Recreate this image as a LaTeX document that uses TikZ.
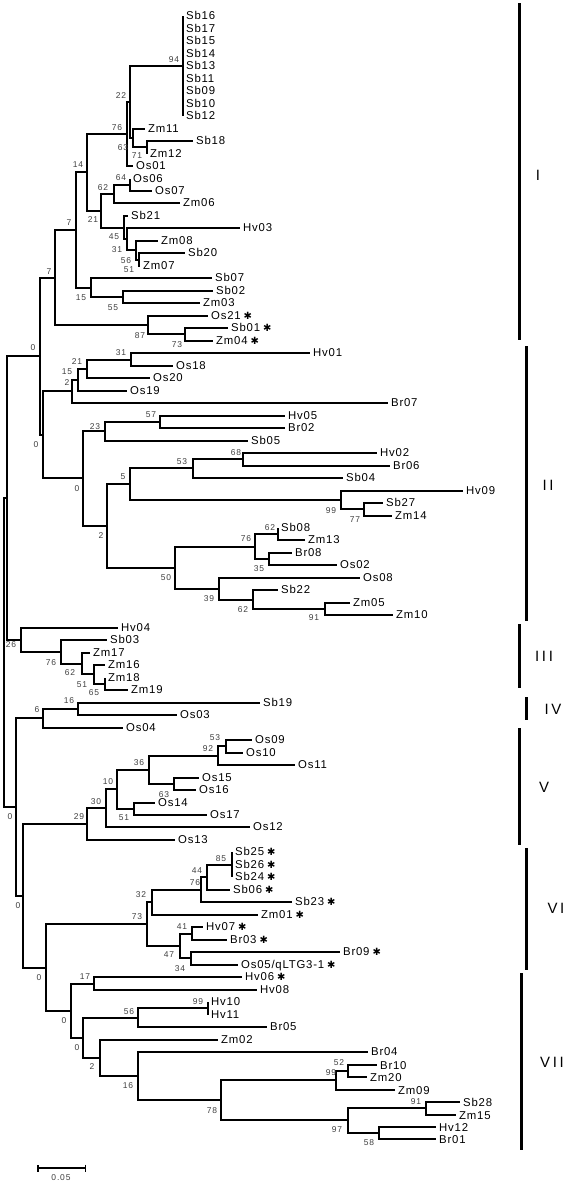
\documentclass[tikz,border=0pt]{standalone}
\usepackage{fontspec}
\setmainfont{Liberation Sans}
\newfontfamily\lblfont[LetterSpace=7]{Liberation Sans}
\newfontfamily\numfont[LetterSpace=10]{Liberation Sans}
\newfontfamily\romfont[LetterSpace=18]{Liberation Sans}
\newfontfamily\starfont{DejaVu Sans}
\usetikzlibrary{arrows.meta}
\newcommand{\leaffont}{\lblfont\fontsize{11.4}{13}\selectfont}
\newcommand{\bsfont}{\numfont\fontsize{8.5}{10}\selectfont}
\newcommand{\cladefont}{\romfont\fontsize{15}{18}\selectfont}
\newcommand{\mystar}{\hspace{3pt}{\starfont\fontsize{10}{10}\selectfont ✱}}
\tikzset{
  br/.style={line width=1.5bp, line join=miter},
  leaf/.style={anchor=west, inner xsep=3pt, inner ysep=0pt, font=\leaffont, text height=8pt, text depth=0pt},
  bs/.style={font=\bsfont, text=black!75, inner sep=0pt},
  cbar/.style={line width=3bp},
  clade/.style={font=\cladefont, inner sep=0pt},
}
\begin{document}
\begin{tikzpicture}[x=1bp,y=-1bp]
\useasboundingbox (0,0) rectangle (568,1184);
\fill[white] (0,0) rectangle (568,1184);

% ---------- leaves ----------
\node[leaf] (Sb16) at (183,16) {Sb16};
\node[leaf] (Sb17) at (183,29) {Sb17};
\node[leaf] (Sb15) at (183,41) {Sb15};
\node[leaf] (Sb14) at (183,54) {Sb14};
\node[leaf] (Sb13) at (183,66) {Sb13};
\node[leaf] (Sb11) at (183,79) {Sb11};
\node[leaf] (Sb09) at (183,91) {Sb09};
\node[leaf] (Sb10) at (183,104) {Sb10};
\node[leaf] (Sb12) at (183,116) {Sb12};
\node[leaf] (Zm11) at (145,129) {Zm11};
\node[leaf] (Sb18) at (193,141) {Sb18};
\node[leaf] (Zm12) at (147,154) {Zm12};
\node[leaf] (Os01) at (133,166) {Os01};
\node[leaf] (Os06) at (130,179) {Os06};
\node[leaf] (Os07) at (152,191) {Os07};
\node[leaf] (Zm06) at (180,203) {Zm06};
\node[leaf] (Sb21) at (128,216) {Sb21};
\node[leaf] (Hv03) at (240,228) {Hv03};
\node[leaf] (Zm08) at (158,241) {Zm08};
\node[leaf] (Sb20) at (185,253) {Sb20};
\node[leaf] (Zm07) at (140,266) {Zm07};
\node[leaf] (Sb07) at (212,278) {Sb07};
\node[leaf] (Sb02) at (213,291) {Sb02};
\node[leaf] (Zm03) at (200,303) {Zm03};
\node[leaf] (Os21) at (208,316) {Os21\mystar};
\node[leaf] (Sb01) at (228,328) {Sb01\mystar};
\node[leaf] (Zm04) at (213,341) {Zm04\mystar};
\node[leaf] (Hv01) at (310,353) {Hv01};
\node[leaf] (Os18) at (173,366) {Os18};
\node[leaf] (Os20) at (150,378) {Os20};
\node[leaf] (Os19) at (127,391) {Os19};
\node[leaf] (Br07) at (388,403) {Br07};
\node[leaf] (Hv05) at (285,416) {Hv05};
\node[leaf] (Br02) at (285,428) {Br02};
\node[leaf] (Sb05) at (248,441) {Sb05};
\node[leaf] (Hv02) at (377,453) {Hv02};
\node[leaf] (Br06) at (390,466) {Br06};
\node[leaf] (Sb04) at (343,478) {Sb04};
\node[leaf] (Hv09) at (463,491) {Hv09};
\node[leaf] (Sb27) at (383,503) {Sb27};
\node[leaf] (Zm14) at (392,516) {Zm14};
\node[leaf] (Sb08) at (278,528) {Sb08};
\node[leaf] (Zm13) at (305,540) {Zm13};
\node[leaf] (Br08) at (292,553) {Br08};
\node[leaf] (Os02) at (337,565) {Os02};
\node[leaf] (Os08) at (360,578) {Os08};
\node[leaf] (Sb22) at (278,590) {Sb22};
\node[leaf] (Zm05) at (350,603) {Zm05};
\node[leaf] (Zm10) at (393,615) {Zm10};
\node[leaf] (Hv04) at (118,628) {Hv04};
\node[leaf] (Sb03) at (107,640) {Sb03};
\node[leaf] (Zm17) at (90,653) {Zm17};
\node[leaf] (Zm16) at (105,665) {Zm16};
\node[leaf] (Zm18) at (105,678) {Zm18};
\node[leaf] (Zm19) at (128,690) {Zm19};
\node[leaf] (Sb19) at (260,703) {Sb19};
\node[leaf] (Os03) at (177,715) {Os03};
\node[leaf] (Os04) at (123,728) {Os04};
\node[leaf] (Os09) at (252,740) {Os09};
\node[leaf] (Os10) at (243,753) {Os10};
\node[leaf] (Os11) at (295,765) {Os11};
\node[leaf] (Os15) at (199,778) {Os15};
\node[leaf] (Os16) at (196,790) {Os16};
\node[leaf] (Os14) at (155,803) {Os14};
\node[leaf] (Os17) at (207,815) {Os17};
\node[leaf] (Os12) at (250,827) {Os12};
\node[leaf] (Os13) at (175,840) {Os13};
\node[leaf] (Sb25) at (232,852) {Sb25\mystar};
\node[leaf] (Sb26) at (232,865) {Sb26\mystar};
\node[leaf] (Sb24) at (232,877) {Sb24\mystar};
\node[leaf] (Sb06) at (230,890) {Sb06\mystar};
\node[leaf] (Sb23) at (292,902) {Sb23\mystar};
\node[leaf] (Zm01) at (258,915) {Zm01\mystar};
\node[leaf] (Hv07) at (203,927) {Hv07\mystar};
\node[leaf] (Br03) at (227,940) {Br03\mystar};
\node[leaf] (Br09) at (340,952) {Br09\mystar};
\node[leaf] (Os05) at (238,965) {Os05/qLTG3-1\mystar};
\node[leaf] (Hv06) at (242,977) {Hv06\mystar};
\node[leaf] (Hv08) at (257,990) {Hv08};
\node[leaf] (Hv10) at (208,1002) {Hv10};
\node[leaf] (Hv11) at (208,1015) {Hv11};
\node[leaf] (Br05) at (267,1027) {Br05};
\node[leaf] (Zm02) at (218,1040) {Zm02};
\node[leaf] (Br04) at (368,1052) {Br04};
\node[leaf] (Br10) at (377,1065) {Br10};
\node[leaf] (Zm20) at (367,1077) {Zm20};
\node[leaf] (Zm09) at (395,1090) {Zm09};
\node[leaf] (Sb28) at (460,1102) {Sb28};
\node[leaf] (Zm15) at (456,1115) {Zm15};
\node[leaf] (Hv12) at (436,1127) {Hv12};
\node[leaf] (Br01) at (436,1139) {Br01};

% ---------- internal nodes ----------
\coordinate (n94) at (183,66);
\coordinate (n71) at (147,147);
\coordinate (n63) at (133,138);
\coordinate (n22) at (130,102);
\coordinate (n76) at (127,134);
\coordinate (n64) at (130,185);
\coordinate (n62) at (114,194);
\coordinate (n51) at (139,260);
\coordinate (n56) at (136,250);
\coordinate (n31) at (127,239);
\coordinate (n45) at (124,228);
\coordinate (n21) at (101,211);
\coordinate (n14) at (87,172);
\coordinate (n55) at (123,297);
\coordinate (n15) at (91,288);
\coordinate (n7a) at (76,230);
\coordinate (n73a) at (185,334);
\coordinate (n87) at (148,325);
\coordinate (n7b) at (55,278);
\coordinate (n31b) at (131,360);
\coordinate (n21b) at (87,369);
\coordinate (n15b) at (78,380);
\coordinate (n2a) at (72,391);
\coordinate (n57) at (160,422);
\coordinate (n23) at (105,431);
\coordinate (n68) at (243,459);
\coordinate (n53) at (193,468);
\coordinate (n77) at (364,509);
\coordinate (n99a) at (341,500);
\coordinate (n5) at (130,484);
\coordinate (n62b) at (278,534);
\coordinate (n35) at (269,559);
\coordinate (n76b) at (255,547);
\coordinate (n91) at (325,609);
\coordinate (n62c) at (253,600);
\coordinate (n39) at (219,589);
\coordinate (n50) at (175,568);
\coordinate (n2b) at (107,526);
\coordinate (n0c) at (83,478);
\coordinate (n0b) at (43,435);
\coordinate (n0a) at (40,356);
\coordinate (n65) at (105,684);
\coordinate (n51c) at (94,674);
\coordinate (n62d) at (82,664);
\coordinate (n76c) at (61,652);
\coordinate (n26) at (21,640);
\coordinate (nR2) at (7,498);
\coordinate (n16a) at (78,709);
\coordinate (n6) at (43,718);
\coordinate (n53b) at (226,746);
\coordinate (n92) at (218,756);
\coordinate (n63b) at (174,784);
\coordinate (n36) at (149,770);
\coordinate (n51d) at (134,809);
\coordinate (n10) at (117,789);
\coordinate (n30) at (106,808);
\coordinate (n29) at (87,824);
\coordinate (n85) at (232,865);
\coordinate (n44) at (207,877);
\coordinate (n76d) at (201,890);
\coordinate (n32) at (152,902);
\coordinate (n41) at (192,934);
\coordinate (n34) at (191,958);
\coordinate (n47) at (180,946);
\coordinate (n73b) at (147,924);
\coordinate (n17) at (94,984);
\coordinate (n99b) at (208,1008);
\coordinate (n56b) at (138,1018);
\coordinate (n52) at (348,1071);
\coordinate (n99c) at (336,1080);
\coordinate (n91b) at (426,1108);
\coordinate (n58) at (379,1133);
\coordinate (n97) at (348,1120);
\coordinate (n78) at (221,1100);
\coordinate (n16b) at (138,1076);
\coordinate (n2c) at (100,1058);
\coordinate (n0g) at (83,1038);
\coordinate (n0f) at (71,1011);
\coordinate (n0e) at (46,968);
\coordinate (n0d) at (23,896);
\coordinate (n0h) at (16,807);
\coordinate (root) at (4,652);

% ---------- branches ----------
\draw[br] (n94) |- (Sb16.west) (n94) |- (Sb12.west);
\draw[br] (n71) |- (Sb18.west) (n71) |- (Zm12.west);
\draw[br] (n63) |- (Zm11.west) (n63) |- (n71);
\draw[br] (n22) |- (n94) (n22) |- (n63);
\draw[br] (n76) |- (n22) (n76) |- (Os01.west);
\draw[br] (n64) |- (Os06.west) (n64) |- (Os07.west);
\draw[br] (n62) |- (n64) (n62) |- (Zm06.west);
\draw[br] (n51) |- (Sb20.west) (n51) |- (Zm07.west);
\draw[br] (n56) |- (Zm08.west) (n56) |- (n51);
\draw[br] (n31) |- (Hv03.west) (n31) |- (n56);
\draw[br] (n45) |- (Sb21.west) (n45) |- (n31);
\draw[br] (n21) |- (n62) (n21) |- (n45);
\draw[br] (n14) |- (n76) (n14) |- (n21);
\draw[br] (n55) |- (Sb02.west) (n55) |- (Zm03.west);
\draw[br] (n15) |- (Sb07.west) (n15) |- (n55);
\draw[br] (n7a) |- (n14) (n7a) |- (n15);
\draw[br] (n73a) |- (Sb01.west) (n73a) |- (Zm04.west);
\draw[br] (n87) |- (Os21.west) (n87) |- (n73a);
\draw[br] (n7b) |- (n7a) (n7b) |- (n87);
\draw[br] (n31b) |- (Hv01.west) (n31b) |- (Os18.west);
\draw[br] (n21b) |- (n31b) (n21b) |- (Os20.west);
\draw[br] (n15b) |- (n21b) (n15b) |- (Os19.west);
\draw[br] (n2a) |- (n15b) (n2a) |- (Br07.west);
\draw[br] (n57) |- (Hv05.west) (n57) |- (Br02.west);
\draw[br] (n23) |- (n57) (n23) |- (Sb05.west);
\draw[br] (n68) |- (Hv02.west) (n68) |- (Br06.west);
\draw[br] (n53) |- (n68) (n53) |- (Sb04.west);
\draw[br] (n77) |- (Sb27.west) (n77) |- (Zm14.west);
\draw[br] (n99a) |- (Hv09.west) (n99a) |- (n77);
\draw[br] (n5) |- (n53) (n5) |- (n99a);
\draw[br] (n62b) |- (Sb08.west) (n62b) |- (Zm13.west);
\draw[br] (n35) |- (Br08.west) (n35) |- (Os02.west);
\draw[br] (n76b) |- (n62b) (n76b) |- (n35);
\draw[br] (n91) |- (Zm05.west) (n91) |- (Zm10.west);
\draw[br] (n62c) |- (Sb22.west) (n62c) |- (n91);
\draw[br] (n39) |- (Os08.west) (n39) |- (n62c);
\draw[br] (n50) |- (n76b) (n50) |- (n39);
\draw[br] (n2b) |- (n5) (n2b) |- (n50);
\draw[br] (n0c) |- (n23) (n0c) |- (n2b);
\draw[br] (n0b) |- (n2a) (n0b) |- (n0c);
\draw[br] (n0a) |- (n7b) (n0a) |- (n0b);
\draw[br] (n65) |- (Zm18.west) (n65) |- (Zm19.west);
\draw[br] (n51c) |- (Zm16.west) (n51c) |- (n65);
\draw[br] (n62d) |- (Zm17.west) (n62d) |- (n51c);
\draw[br] (n76c) |- (Sb03.west) (n76c) |- (n62d);
\draw[br] (n26) |- (Hv04.west) (n26) |- (n76c);
\draw[br] (nR2) |- (n0a) (nR2) |- (n26);
\draw[br] (n16a) |- (Sb19.west) (n16a) |- (Os03.west);
\draw[br] (n6) |- (n16a) (n6) |- (Os04.west);
\draw[br] (n53b) |- (Os09.west) (n53b) |- (Os10.west);
\draw[br] (n92) |- (n53b) (n92) |- (Os11.west);
\draw[br] (n63b) |- (Os15.west) (n63b) |- (Os16.west);
\draw[br] (n36) |- (n92) (n36) |- (n63b);
\draw[br] (n51d) |- (Os14.west) (n51d) |- (Os17.west);
\draw[br] (n10) |- (n36) (n10) |- (n51d);
\draw[br] (n30) |- (n10) (n30) |- (Os12.west);
\draw[br] (n29) |- (n30) (n29) |- (Os13.west);
\draw[br] (n85) |- (Sb25.west) (n85) |- (Sb24.west);
\draw[br] (n44) |- (n85) (n44) |- (Sb06.west);
\draw[br] (n76d) |- (n44) (n76d) |- (Sb23.west);
\draw[br] (n32) |- (n76d) (n32) |- (Zm01.west);
\draw[br] (n41) |- (Hv07.west) (n41) |- (Br03.west);
\draw[br] (n34) |- (Br09.west) (n34) |- (Os05.west);
\draw[br] (n47) |- (n41) (n47) |- (n34);
\draw[br] (n73b) |- (n32) (n73b) |- (n47);
\draw[br] (n17) |- (Hv06.west) (n17) |- (Hv08.west);
\draw[br] (n99b) |- (Hv10.west) (n99b) |- (Hv11.west);
\draw[br] (n56b) |- (n99b) (n56b) |- (Br05.west);
\draw[br] (n52) |- (Br10.west) (n52) |- (Zm20.west);
\draw[br] (n99c) |- (n52) (n99c) |- (Zm09.west);
\draw[br] (n91b) |- (Sb28.west) (n91b) |- (Zm15.west);
\draw[br] (n58) |- (Hv12.west) (n58) |- (Br01.west);
\draw[br] (n97) |- (n91b) (n97) |- (n58);
\draw[br] (n78) |- (n99c) (n78) |- (n97);
\draw[br] (n16b) |- (Br04.west) (n16b) |- (n78);
\draw[br] (n2c) |- (Zm02.west) (n2c) |- (n16b);
\draw[br] (n0g) |- (n56b) (n0g) |- (n2c);
\draw[br] (n0f) |- (n17) (n0f) |- (n0g);
\draw[br] (n0e) |- (n73b) (n0e) |- (n0f);
\draw[br] (n0d) |- (n29) (n0d) |- (n0e);
\draw[br] (n0h) |- (n6) (n0h) |- (n0d);
\draw[br] (root) |- (nR2) (root) |- (n0h);

% ---------- bootstrap values ----------
\node[bs] (b01) at (174,60) {94};
\node[bs] (b02) at (121,96) {22};
\node[bs] (b03) at (117,128) {76};
\node[bs] (b04) at (123,148) {63};
\node[bs] (b05) at (137,156) {71};
\node[bs] (b06) at (78,165) {14};
\node[bs] (b07) at (121,178) {64};
\node[bs] (b08) at (103,188) {62};
\node[bs] (b09) at (93,220) {21};
\node[bs] (b10) at (69,223) {7};
\node[bs] (b11) at (114,237) {45};
\node[bs] (b12) at (117,250) {31};
\node[bs] (b13) at (126,261) {56};
\node[bs] (b14) at (129,270) {51};
\node[bs] (b15) at (49,272) {7};
\node[bs] (b16) at (81,298) {15};
\node[bs] (b17) at (113,308) {55};
\node[bs] (b18) at (140,336) {87};
\node[bs] (b19) at (177,345) {73};
\node[bs] (b20) at (33,348) {0};
\node[bs] (b21) at (121,353) {31};
\node[bs] (b22) at (77,362) {21};
\node[bs] (b23) at (67,372) {15};
\node[bs] (b24) at (67,383) {2};
\node[bs] (b25) at (151,415) {57};
\node[bs] (b26) at (95,427) {23};
\node[bs] (b27) at (36,445) {0};
\node[bs] (b28) at (236,453) {68};
\node[bs] (b29) at (182,462) {53};
\node[bs] (b30) at (123,477) {5};
\node[bs] (b31) at (77,489) {0};
\node[bs] (b32) at (331,511) {99};
\node[bs] (b33) at (355,520) {77};
\node[bs] (b34) at (270,528) {62};
\node[bs] (b35) at (246,539) {76};
\node[bs] (b36) at (101,536) {2};
\node[bs] (b37) at (259,569) {35};
\node[bs] (b38) at (166,578) {50};
\node[bs] (b39) at (209,599) {39};
\node[bs] (b40) at (243,610) {62};
\node[bs] (b41) at (314,618) {91};
\node[bs] (b42) at (11,645) {26};
\node[bs] (b43) at (51,663) {76};
\node[bs] (b44) at (70,673) {62};
\node[bs] (b45) at (82,685) {51};
\node[bs] (b46) at (94,693) {65};
\node[bs] (b47) at (69,701) {16};
\node[bs] (b48) at (37,710) {6};
\node[bs] (b49) at (215,738) {53};
\node[bs] (b50) at (208,749) {92};
\node[bs] (b51) at (139,763) {36};
\node[bs] (b52) at (164,795) {63};
\node[bs] (b53) at (108,782) {10};
\node[bs] (b54) at (96,802) {30};
\node[bs] (b55) at (124,818) {51};
\node[bs] (b56) at (79,817) {29};
\node[bs] (b57) at (10,817) {0};
\node[bs] (b58) at (221,859) {85};
\node[bs] (b59) at (197,871) {44};
\node[bs] (b60) at (195,883) {76};
\node[bs] (b61) at (141,895) {32};
\node[bs] (b62) at (137,917) {73};
\node[bs] (b63) at (18,906) {0};
\node[bs] (b64) at (182,927) {41};
\node[bs] (b65) at (169,955) {47};
\node[bs] (b66) at (180,969) {34};
\node[bs] (b67) at (39,978) {0};
\node[bs] (b68) at (85,977) {17};
\node[bs] (b69) at (198,1002) {99};
\node[bs] (b70) at (129,1012) {56};
\node[bs] (b71) at (64,1021) {0};
\node[bs] (b72) at (77,1048) {0};
\node[bs] (b73) at (92,1067) {2};
\node[bs] (b74) at (128,1086) {16};
\node[bs] (b75) at (212,1111) {78};
\node[bs] (b76) at (331,1073) {99};
\node[bs] (b77) at (339,1063) {52};
\node[bs] (b78) at (416,1102) {91};
\node[bs] (b79) at (337,1130) {97};
\node[bs] (b80) at (369,1143) {58};

% ---------- clade bars ----------
\coordinate (cIa) at (519.5,3);     \coordinate (cIb) at (519.5,340);
\coordinate (cIIa) at (526.5,346);  \coordinate (cIIb) at (526.5,621);
\coordinate (cIIIa) at (519.5,624); \coordinate (cIIIb) at (519.5,688);
\coordinate (cIVa) at (526.5,697);  \coordinate (cIVb) at (526.5,720);
\coordinate (cVa) at (519.5,728);   \coordinate (cVb) at (519.5,845);
\coordinate (cVIa) at (526.5,848);  \coordinate (cVIb) at (526.5,970);
\coordinate (cVIIa) at (521.5,973); \coordinate (cVIIb) at (521.5,1150);
\draw[cbar] (cIa) -- (cIb);
\draw[cbar] (cIIa) -- (cIIb);
\draw[cbar] (cIIIa) -- (cIIIb);
\draw[cbar] (cIVa) -- (cIVb);
\draw[cbar] (cVa) -- (cVb);
\draw[cbar] (cVIa) -- (cVIb);
\draw[cbar] (cVIIa) -- (cVIIb);
\node[clade] (lI) at (538,175) {I};
\node[clade] (lII) at (548,485) {II};
\node[clade] (lIII) at (544,656) {III};
\node[clade] (lIV) at (553,709) {IV};
\node[clade] (lV) at (544,787) {V};
\node[clade] (lVI) at (556,908) {VI};
\node[clade] (lVII) at (552,1062) {VII};

% ---------- scale bar ----------
\coordinate (sbl) at (37,1168);
\coordinate (sbr) at (86,1168);
\draw[line width=1.5bp, {Bar[width=7pt]}-{Bar[width=7pt]}] (sbl) -- (sbr);
\node[bs] (sblab) at (61,1178) {0.05};
\end{tikzpicture}
\end{document}
